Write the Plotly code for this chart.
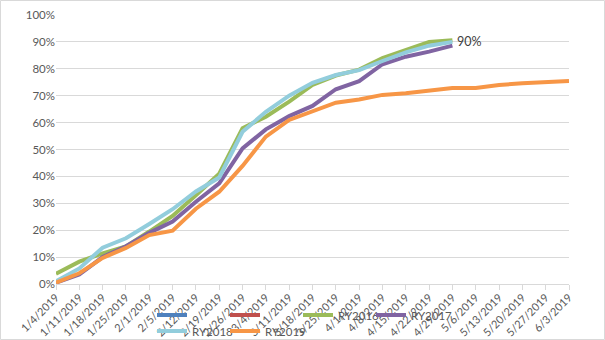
import plotly.graph_objects as go

# Weekly reporting dates (category axis)
dates = [
    "1/4/2019", "1/11/2019", "1/18/2019", "1/25/2019", "2/1/2019", "2/5/2019",
    "2/12/2019", "2/19/2019", "2/26/2019", "3/4/2019", "3/11/2019", "3/18/2019",
    "3/25/2019", "4/1/2019", "4/8/2019", "4/15/2019", "4/22/2019", "4/29/2019",
    "5/6/2019", "5/13/2019", "5/20/2019", "5/27/2019", "6/3/2019",
]

# Cumulative completion (%) per reporting year
ry2014 = []
ry2015 = []
ry2016 = [3.8, 8.3, 11.4, 14.0, 19.5, 25.3, 33.0, 41.0, 57.9, 62.2, 67.8, 74.0,
          77.5, 79.7, 84.0, 87.0, 90.0, 90.6]
ry2017 = [0.5, 3.5, 10.0, 14.0, 19.0, 23.2, 30.6, 37.4, 50.4, 57.5, 62.4, 66.2,
          72.4, 75.4, 81.7, 84.5, 86.4, 88.6]
ry2018 = [1.0, 5.8, 13.5, 17.0, 22.3, 27.8, 34.4, 39.6, 56.6, 64.0, 70.0, 74.8,
          77.7, 79.5, 82.9, 86.1, 88.6, 90.0]
ry2019 = [0.5, 4.0, 9.7, 13.4, 18.2, 19.8, 28.0, 34.3, 43.9, 54.8, 61.0, 64.3,
          67.4, 68.6, 70.3, 70.9, 71.9, 72.9, 72.9, 74.0, 74.6, 75.2, 75.5]

series = [
    (" ", ry2014, "#4F81BD", "legend"),
    (" ", ry2015, "#C0504D", "legend"),
    ("RY2016", ry2016, "#9BBB59", "legend"),
    ("RY2017", ry2017, "#8064A2", "legend"),
    ("RY2018", ry2018, "#92CDDC", "legend2"),
    ("RY2019", ry2019, "#F79646", "legend2"),
]

FONT = "Lato, 'Open Sans', sans-serif"
GRID = "#D9D9D9"
TXT = "#595959"

fig = go.Figure()
for name, vals, color, leg in series:
    ys = [v / 100 for v in vals] if vals else [None] * len(dates)
    fig.add_trace(go.Scatter(
        x=dates[:len(ys)], y=ys, name=name, mode="lines",
        line=dict(color=color, width=4), legend=leg, showlegend=True,
    ))

# Transparent trailing spacer entries so the last legend label in each row
# has room to be drawn in full
for leg in ("legend", "legend2"):
    fig.add_trace(go.Scatter(
        x=[None], y=[None], name=" ", mode="lines",
        line=dict(color="rgba(0,0,0,0)", width=0), legend=leg,
        showlegend=True, hoverinfo="skip",
    ))

# End-of-series value label for RY2018
fig.add_annotation(
    x=dates[len(ry2018) - 1], y=ry2018[-1] / 100,
    text=f"{ry2018[-1]:.0f}%", showarrow=False, xanchor="left", yanchor="middle",
    xshift=3, font=dict(family=FONT, size=12.5, color="#404040"),
)

W, H = 605, 340
L, R, T, B = 56, 36, 15, 56
pw, ph = W - L - R, H - T - B


def px_x(x):
    return (x - L) / pw


def px_y(y):
    return (H - B - y) / ph


legend_common = dict(
    orientation="h", xanchor="left", yanchor="middle",
    bgcolor="rgba(0,0,0,0)", font=dict(family=FONT, size=11.5, color=TXT),
    entrywidth=28, entrywidthmode="pixels", itemwidth=30,
    tracegroupgap=0, borderwidth=0,
)

fig.update_layout(
    width=W, height=H,
    margin=dict(l=L, r=R, t=T, b=B, autoexpand=False),
    paper_bgcolor="white", plot_bgcolor="white",
    font=dict(family=FONT, size=11, color=TXT),
    legend=dict(x=px_x(152), y=px_y(315), **legend_common),
    legend2=dict(x=px_x(152), y=px_y(331), **legend_common),
    xaxis=dict(
        type="category", categoryorder="array", categoryarray=dates,
        range=[0, len(dates) - 1], tickangle=-45, automargin=False,
        showgrid=False, showline=True, linecolor=GRID, linewidth=1,
        ticks="outside", ticklen=5, tickcolor=GRID, ticklabelstandoff=-3,
        tickfont=dict(family=FONT, size=11, color=TXT),
        zeroline=False,
    ),
    yaxis=dict(
        range=[0, 1], dtick=0.1, tickformat=".0%", automargin=False,
        showgrid=True, gridcolor=GRID, gridwidth=1,
        showline=False, zeroline=False, ticks="",
        tickfont=dict(family=FONT, size=11.5, color=TXT),
    ),
    shapes=[dict(
        type="rect", xref="paper", yref="paper",
        x0=px_x(0.5), x1=px_x(W - 0.5), y0=px_y(H - 0.5), y1=px_y(0.5),
        line=dict(color=GRID, width=1), layer="below",
    )],
)

fig.write_html("out.html")
